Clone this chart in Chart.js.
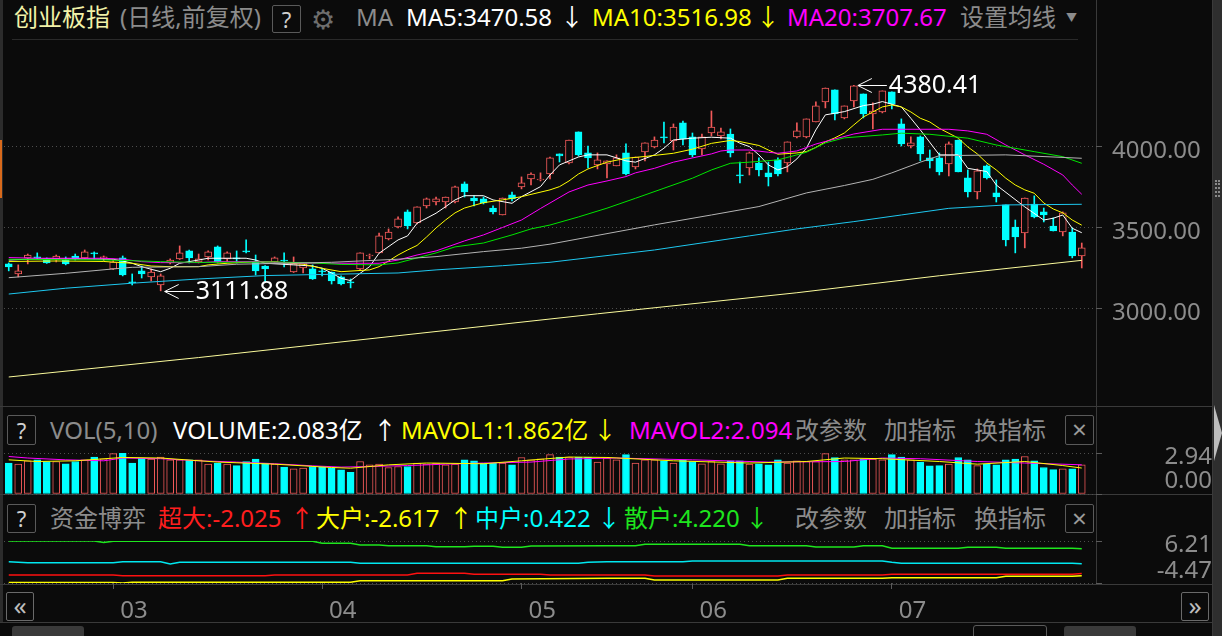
<!DOCTYPE html>
<html>
<head>
<meta charset="utf-8">
<script src="https://cdn.jsdelivr.net/npm/chart.js@4.4.1/dist/chart.umd.min.js"></script>
<style>
html, body { margin: 0; padding: 0; background: #0b0b0b; }
#app { position: relative; width: 1222px; height: 636px; overflow: hidden; background: #0b0b0b;
  font-family: "Noto Sans", "Noto Sans CJK SC", sans-serif; font-size: 24px; color: #8c8c8c; }
.t { position: absolute; white-space: nowrap; line-height: 1; }
.box { position: absolute; border: 1px solid #5a5a5a; border-radius: 2px; box-sizing: border-box;
  text-align: center; color: #d0d0d0; }
.ln { position: absolute; background: #3a3a3a; }
canvas { position: absolute; left: 0; }
</style>
</head>
<body>
<div id="app">
  <div class="ln" style="left:0;top:0;width:3px;height:622px;background:#2c2c2c"></div>
  <div class="ln" style="left:0;top:140px;width:2px;height:58px;background:#d86a1c"></div>

  <!-- price header -->
  <span class="t" style="left:14px;top:5px;color:#f2f2a8">创业板指</span>
  <span class="t" style="left:120px;top:5px">(日线,前复权)</span>
  <div class="box" style="left:272px;top:5px;width:29px;height:28px;font-size:22px;line-height:26px">?</div>
  <span class="t" style="left:311px;top:5px;font-size:27px;color:#6e6e6e">⚙</span>
  <span class="t" style="left:356px;top:5px">MA</span>
  <span class="t" id="ma5Txt" style="left:406px;top:5px;color:#ffffff"></span>
  <span class="t" style="left:560px;top:5px;color:#ffffff">↓</span>
  <span class="t" id="ma10Txt" style="left:592px;top:5px;color:#ffff00"></span>
  <span class="t" style="left:756px;top:5px;color:#ffff00">↓</span>
  <span class="t" id="ma20Txt" style="left:787px;top:5px;color:#ff00ff"></span>
  <span class="t" style="left:960px;top:5px">设置均线</span>
  <span class="t" style="left:1066px;top:12px;font-size:11px">▼</span>
  <div class="ln" style="left:12px;top:39px;width:1066px;height:1px;background:#2a2a2a"></div>

  <!-- frame lines -->
  <div class="ln" style="left:1096px;top:0;width:1px;height:584px"></div>
  <div class="ln" style="left:1212px;top:0;width:1px;height:636px"></div>
  <div class="ln" style="left:0;top:406px;width:1212px;height:1px"></div>
  <div class="ln" style="left:0;top:494px;width:1212px;height:1px"></div>
  <div class="ln" style="left:0;top:584px;width:1212px;height:1px"></div>
  <div class="ln" style="left:0;top:622px;width:1212px;height:1px"></div>

  <!-- volume header -->
  <div class="box" style="left:7px;top:415px;width:29px;height:30px;font-size:22px;line-height:28px">?</div>
  <span class="t" style="left:50px;top:418px">VOL(5,10)</span>
  <span class="t" id="volTxt" style="left:173px;top:418px;color:#ffffff"></span>
  <span class="t" style="left:373px;top:418px;color:#ffffff">↑</span>
  <span class="t" id="mv1Txt" style="left:401px;top:418px;color:#ffff00"></span>
  <span class="t" style="left:593px;top:418px;color:#ffff00">↓</span>
  <span class="t" id="mv2Txt" style="left:629px;top:418px;color:#ff00ff"></span>
  <span class="t" style="left:795px;top:418px">改参数</span>
  <span class="t" style="left:884px;top:418px">加指标</span>
  <span class="t" style="left:974px;top:418px">换指标</span>
  <div class="box" style="left:1065px;top:415px;width:29px;height:30px;font-size:26px;line-height:27px;color:#9a9a9a">×</div>

  <!-- fund header -->
  <div class="box" style="left:7px;top:504px;width:29px;height:29px;font-size:22px;line-height:27px">?</div>
  <span class="t" style="left:50px;top:506px">资金博弈</span>
  <span class="t" id="supTxt" style="left:158px;top:506px;color:#ff1e1e"></span>
  <span class="t" style="left:290px;top:506px;color:#ff1e1e">↑</span>
  <span class="t" id="bigTxt" style="left:316px;top:506px;color:#ffff00"></span>
  <span class="t" style="left:449px;top:506px;color:#ffff00">↑</span>
  <span class="t" id="midTxt" style="left:475px;top:506px;color:#00ffff"></span>
  <span class="t" style="left:597px;top:506px;color:#00ffff">↓</span>
  <span class="t" id="retTxt" style="left:624px;top:506px;color:#1ee61e"></span>
  <span class="t" style="left:745px;top:506px;color:#1ee61e">↓</span>
  <span class="t" style="left:795px;top:506px">改参数</span>
  <span class="t" style="left:884px;top:506px">加指标</span>
  <span class="t" style="left:974px;top:506px">换指标</span>
  <div class="box" style="left:1065px;top:504px;width:29px;height:29px;font-size:26px;line-height:26px;color:#9a9a9a">×</div>

  <!-- scroll buttons and bottom bar -->
  <div class="box" style="left:6px;top:592px;width:28px;height:29px;border-color:#6a6a6a;font-size:26px;line-height:24px;color:#bdbdbd">«</div>
  <div class="box" style="left:1181px;top:592px;width:28px;height:29px;border-color:#6a6a6a;font-size:26px;line-height:24px;color:#bdbdbd">»</div>
  <div style="position:absolute;left:12px;top:626px;width:72px;height:14px;background:#3a3a3a;border-radius:3px"></div>
  <div style="position:absolute;left:973px;top:625px;width:72px;height:14px;border:1px solid #5a5a5a;border-radius:3px"></div>
  <div style="position:absolute;left:1064px;top:626px;width:72px;height:14px;background:#3a3a3a;border-radius:3px"></div>

  <!-- right scrollbar -->
  <div style="position:absolute;left:1213px;top:0;width:9px;height:636px;background:#2e2e2e"></div>
  <div style="position:absolute;left:1215px;top:180px;width:5px;height:17px;border-left:2px dotted #8a8a8a;border-right:2px dotted #8a8a8a;box-sizing:border-box"></div>
  <div style="position:absolute;left:1214px;top:405px;width:0;height:0;border-top:28px solid transparent;border-bottom:28px solid transparent;border-left:8px solid #bdbdbd"></div>

  <canvas id="price" width="1212" height="366" style="top:40px"></canvas>
  <canvas id="vol" width="1212" height="52" style="top:444px"></canvas>
  <canvas id="fund" width="1212" height="92" style="top:530px"></canvas>
</div>

<script>
// trading days per month (categories)
const monthDays = {
  '02': [5, 8, 9, 10, 18, 19, 22, 23, 24, 25, 26],
  '03': [1, 2, 3, 4, 5, 8, 9, 10, 11, 12, 15, 16, 17, 18, 19, 22, 23, 24, 25, 26, 29, 30],
  '04': [1, 2, 6, 7, 8, 9, 12, 13, 14, 15, 16, 19, 20, 21, 22, 23, 26, 27, 28, 29, 30],
  '05': [6, 7, 10, 11, 12, 13, 14, 17, 18, 19, 20, 21, 24, 25, 26, 27, 28, 31],
  '06': [1, 2, 3, 4, 7, 8, 9, 10, 11, 15, 16, 17, 18, 21, 22, 23, 24, 25, 28, 29, 30],
  '07': [1, 2, 5, 6, 7, 8, 9, 12, 13, 14, 15, 16, 19, 20, 21, 22, 23, 26, 27, 28, 29]
};

// daily candles
const open = [3278, 3216, 3315, 3321, 3309, 3309, 3302, 3327, 3315, 3346, 3309, 3247, 3315, 3167, 3235, 3198, 3148, 3284, 3309, 3358,
  3290, 3321, 3383, 3309, 3315, 3358, 3290, 3265, 3290, 3302, 3228, 3253, 3247, 3235, 3228, 3198, 3167, 3247, 3327, 3346,
  3432, 3506, 3599, 3531, 3636, 3660, 3660, 3660, 3772, 3685, 3679, 3623, 3580, 3704, 3753, 3802, 3796, 3833, 3957, 3901,
  4093, 3963, 3889, 3895, 3883, 3963, 3877, 3969, 4000, 4062, 4037, 4148, 4062, 3988, 4086, 4068, 4080, 3827, 3870, 3901,
  3840, 3920, 3901, 4062, 4062, 4154, 4278, 4352, 4179, 4284, 4327, 4204, 4216, 4340, 4142, 4006, 4062, 3932, 3932, 3895,
  4043, 3809, 3722, 3883, 3716, 3642, 3506, 3469, 3648, 3599, 3512, 3475, 3475, 3327];
const close = [3259, 3235, 3333, 3315, 3284, 3327, 3278, 3309, 3352, 3339, 3321, 3290, 3210, 3161, 3216, 3228, 3204, 3302, 3346, 3315,
  3309, 3352, 3290, 3346, 3309, 3352, 3235, 3247, 3315, 3296, 3278, 3284, 3185, 3228, 3173, 3154, 3161, 3346, 3333, 3451,
  3475, 3556, 3512, 3630, 3679, 3679, 3691, 3753, 3722, 3667, 3654, 3599, 3685, 3679, 3778, 3833, 3802, 3932, 3944, 4043,
  3951, 3932, 3920, 3914, 3932, 3833, 3938, 4025, 4043, 4056, 4123, 4049, 3951, 4062, 4123, 4093, 3963, 3821, 3963, 3858,
  3815, 3833, 4031, 4099, 4173, 4253, 4364, 4204, 4253, 4377, 4204, 4222, 4346, 4265, 4019, 4025, 3957, 3914, 3846, 4019,
  3846, 3722, 3852, 3809, 3691, 3426, 3444, 3685, 3568, 3580, 3481, 3593, 3327, 3377];
const high = [3284, 3272, 3339, 3346, 3315, 3333, 3321, 3339, 3364, 3352, 3327, 3302, 3327, 3216, 3265, 3247, 3216, 3309, 3389, 3364,
  3339, 3358, 3389, 3352, 3358, 3426, 3333, 3268, 3321, 3346, 3321, 3284, 3272, 3253, 3228, 3204, 3185, 3346, 3339, 3469,
  3494, 3568, 3611, 3630, 3685, 3691, 3691, 3759, 3784, 3698, 3691, 3636, 3685, 3722, 3815, 3840, 3840, 3938, 3957, 4043,
  4093, 4006, 3963, 3914, 3951, 4019, 3938, 4025, 4062, 4154, 4142, 4160, 4086, 4080, 4222, 4117, 4111, 3907, 3969, 3932,
  3907, 3932, 4031, 4148, 4173, 4278, 4364, 4352, 4253, 4380.41, 4327, 4272, 4346, 4340, 4173, 4062, 4068, 3981, 3963, 4031,
  4043, 3858, 3864, 3889, 3796, 3642, 3549, 3685, 3698, 3623, 3562, 3599, 3500, 3407];
const low = [3235, 3198, 3278, 3309, 3281, 3290, 3272, 3302, 3309, 3309, 3296, 3243, 3204, 3148, 3191, 3173, 3111.88, 3278, 3305, 3284,
  3284, 3302, 3284, 3290, 3284, 3346, 3210, 3167, 3284, 3259, 3225, 3222, 3182, 3204, 3154, 3148, 3130, 3241, 3309, 3346,
  3426, 3500, 3494, 3525, 3623, 3642, 3623, 3654, 3691, 3636, 3648, 3586, 3580, 3667, 3741, 3765, 3790, 3802, 3907, 3895,
  3944, 3870, 3864, 3809, 3883, 3827, 3864, 3914, 3994, 4025, 3981, 4012, 3938, 3951, 4068, 4049, 3938, 3778, 3827, 3821,
  3759, 3821, 3846, 4056, 4056, 4154, 4241, 4167, 4173, 4247, 4179, 4111, 4210, 4235, 4006, 3994, 3914, 3870, 3827, 3821,
  3846, 3691, 3679, 3802, 3660, 3389, 3346, 3377, 3562, 3537, 3481, 3451, 3315, 3253];

// moving averages at the listed candle indices
const ma5At = [0, 2, 4, 8, 11, 12, 13, 14, 15, 16, 17, 18, 20, 21, 25, 26, 27, 30, 32, 33, 34, 35, 36, 37, 38, 39, 41, 42, 43, 45,
  46, 47, 48, 50, 51, 53, 54, 56, 57, 58, 60, 61, 63, 65, 66, 68, 69, 70, 72, 74, 76, 77, 78, 79, 80, 81, 82, 83, 84, 85,
  86, 88, 90, 91, 92, 94, 95, 96, 98, 100, 101, 103, 104, 107, 109, 110, 111, 112, 113];
const ma5 = [3302, 3307, 3309, 3309, 3307, 3296, 3282, 3261, 3245, 3230, 3251, 3282, 3302, 3313, 3313, 3302, 3282, 3272, 3265, 3251,
  3222, 3189, 3175, 3220, 3261, 3344, 3426, 3451, 3529, 3591, 3631, 3673, 3699, 3699, 3673, 3652, 3693, 3755, 3827, 3889,
  3938, 3951, 3951, 3914, 3906, 3951, 3992, 4043, 4054, 4060, 4054, 4023, 4002, 3951, 3889, 3858, 3878, 3926, 3992, 4105,
  4198, 4218, 4255, 4264, 4280, 4247, 4177, 4105, 3951, 3951, 3868, 3848, 3765, 3630, 3549, 3560, 3580, 3498, 3470.58];
const ma10At = [0, 5, 10, 13, 15, 17, 20, 21, 23, 26, 28, 31, 33, 35, 38, 39, 40, 41, 42, 43, 44, 45, 46, 47, 48, 50, 52, 54, 55, 57,
  58, 59, 60, 61, 63, 65, 67, 70, 72, 74, 76, 77, 79, 80, 81, 83, 84, 85, 86, 87, 88, 89, 90, 91, 92, 93, 94, 95, 96, 97,
  98, 100, 101, 102, 103, 104, 105, 106, 107, 108, 109, 110, 111, 112, 113];
const ma10 = [3293, 3296, 3293, 3282, 3265, 3261, 3261, 3272, 3282, 3292, 3290, 3276, 3251, 3230, 3241, 3261, 3296, 3333, 3364, 3392,
  3444, 3500, 3549, 3593, 3623, 3656, 3673, 3693, 3707, 3735, 3755, 3790, 3833, 3864, 3906, 3930, 3941, 3961, 3986, 4022,
  4040, 4033, 4009, 3981, 3955, 3963, 3971, 3997, 4031, 4056, 4086, 4136, 4185, 4216, 4247, 4259, 4247, 4216, 4177, 4154,
  4115, 4054, 4000, 3957, 3901, 3858, 3807, 3765, 3735, 3714, 3654, 3617, 3593, 3549, 3516.98];
const ma20At = [0, 3, 10, 12, 14, 16, 20, 22, 26, 29, 32, 39, 41, 43, 45, 48, 50, 52, 54, 56, 57, 59, 61, 63, 65, 66, 68, 70, 72, 74,
  75, 76, 78, 80, 81, 83, 85, 87, 89, 92, 99, 101, 103, 105, 107, 109, 111, 112, 113];
const ma20 = [3317, 3313, 3313, 3307, 3292, 3286, 3286, 3292, 3292, 3286, 3282, 3282, 3302, 3333, 3358, 3420, 3457, 3503, 3549, 3620,
  3654, 3722, 3765, 3790, 3817, 3840, 3868, 3906, 3932, 3957, 3975, 3981, 3981, 3967, 3961, 3975, 4018, 4049, 4080, 4109,
  4109, 4099, 4078, 4012, 3951, 3893, 3827, 3765, 3707.67];
const ma30At = [0, 10, 13, 16, 20, 28, 32, 35, 39, 41, 43, 45, 47, 50, 53, 55, 57, 60, 63, 66, 69, 72, 74, 76, 78, 81, 83, 84, 86, 88,
  92, 94, 97, 101, 104, 108, 111, 113];
const ma30 = [3307, 3302, 3298, 3292, 3287, 3290, 3284, 3275, 3272, 3284, 3315, 3346, 3383, 3407, 3457, 3494, 3518, 3568, 3622, 3683,
  3745, 3807, 3858, 3899, 3906, 3920, 3951, 3967, 4025, 4056, 4074, 4085, 4078, 4054, 4012, 3971, 3940, 3899];
const ma60At = [0, 6, 11, 13, 20, 24, 34, 41, 45, 50, 54, 57, 68, 74, 79, 84, 88, 91, 93, 96, 98, 105, 113];
const ma60 = [3193, 3220, 3247, 3257, 3261, 3276, 3288, 3307, 3323, 3354, 3375, 3400, 3519, 3580, 3632, 3716, 3762, 3800, 3840, 3906,
  3946, 3951, 3930];
const ma120At = [0, 6, 13, 20, 27, 34, 41, 45, 52, 57, 68, 78, 83, 89, 94, 99, 105, 113];
const ma120 = [3092, 3128, 3159, 3185, 3206, 3214, 3222, 3241, 3267, 3288, 3364, 3451, 3494, 3539, 3580, 3621, 3642, 3646];
const ma250At = [0, 20, 41, 62, 83, 98, 113];
const ma250 = [2580, 2700, 2835, 2970, 3100, 3205, 3300];
const priceTicks = [3000, 3500, 4000];

// volume, 亿
const volume = [2.22, 2.14, 2.38, 2.45, 2.33, 2.33, 2.17, 2.33, 2.45, 2.65, 2.53, 2.89, 2.94, 2.22, 2.58, 2.51, 2.65, 2.45, 2.45, 2.45,
  2.45, 2.14, 2.22, 2.14, 2.04, 2.33, 2.51, 2.22, 2.14, 1.93, 1.80, 1.85, 1.97, 1.93, 1.85, 1.73, 1.56, 2.33, 2.09, 2.14,
  1.90, 1.97, 1.97, 2.22, 2.14, 2.22, 2.09, 2.14, 2.45, 2.38, 2.22, 2.22, 2.22, 2.09, 2.62, 2.45, 2.53, 2.82, 2.65, 2.65,
  2.65, 2.65, 2.29, 2.58, 2.45, 2.82, 2.22, 2.45, 2.45, 2.38, 2.22, 2.45, 2.33, 2.17, 2.33, 2.17, 2.38, 2.38, 2.14, 2.17,
  2.09, 2.45, 2.22, 2.38, 2.33, 2.33, 2.89, 2.62, 2.45, 2.45, 2.51, 2.51, 2.45, 2.82, 2.65, 2.45, 2.29, 2.02, 2.04, 2.14,
  2.62, 2.45, 2.04, 2.14, 2.09, 2.45, 2.51, 2.69, 2.38, 1.90, 1.75, 1.80, 1.80, 2.083];
const mavol1At = [0, 3, 7, 12, 16, 22, 28, 34, 36, 40, 44, 50, 54, 59, 63, 70, 78, 84, 88, 92, 98, 102, 107, 111, 113];
const mavol1 = [2.45, 2.33, 2.38, 2.62, 2.58, 2.29, 2.14, 1.90, 1.85, 2.09, 2.22, 2.17, 2.38, 2.65, 2.62, 2.38, 2.22, 2.33, 2.58, 2.53,
  2.33, 2.14, 2.33, 2.04, 1.862];
const mavol2At = [0, 2, 6, 10, 12, 16, 20, 24, 28, 32, 35, 38, 42, 46, 50, 55, 59, 64, 72, 80, 88, 92, 96, 102, 107, 113];
const mavol2 = [2.69, 2.58, 2.45, 2.38, 2.58, 2.53, 2.38, 2.29, 2.17, 2.02, 1.93, 1.97, 2.04, 2.14, 2.22, 2.29, 2.51, 2.58, 2.45, 2.29,
  2.33, 2.58, 2.53, 2.33, 2.22, 2.094];
const volTicks = [2.94, 0];

// 资金博弈
const superAt = [0, 11, 12, 27, 28, 42, 43, 48, 49, 56, 57, 67, 68, 81, 82, 92, 93, 112, 113];
const superBig = [-2.44, -2.44, -2.6, -2.6, -2.44, -2.44, -2.0, -2.0, -2.26, -2.26, -2.44, -2.44, -2.69, -2.69, -2.44, -2.44, -2.26, -2.26, -2.025];
const bigAt = [0, 11, 12, 13, 36, 37, 52, 53, 63, 67, 68, 81, 82, 92, 93, 104, 105, 112, 113];
const big = [-4.35, -4.35, -4.47, -4.25, -4.25, -3.89, -3.89, -3.45, -3.28, -3.28, -3.71, -3.71, -3.28, -3.28, -3.12, -3.12, -2.77, -2.77, -2.617];
const midAt = [0, 2, 11, 12, 16, 17, 18, 36, 37, 60, 61, 63, 71, 72, 92, 93, 94, 112, 113];
const mid = [0.95, 0.69, 0.69, 0.95, 0.95, 0.36, 0.79, 0.79, 0.54, 0.54, 0.79, 0.95, 0.95, 1.12, 1.12, 0.79, 0.54, 0.54, 0.422];
const retailAt = [0, 9, 10, 11, 32, 33, 36, 37, 39, 40, 44, 45, 48, 49, 51, 52, 54, 55, 63, 66, 67, 77, 78, 84, 85, 89, 90, 92, 93,
  100, 101, 104, 105, 112, 113];
const retail = [6.21, 6.21, 5.85, 6.15, 6.15, 5.62, 5.62, 5.19, 5.19, 5.02, 5.02, 4.76, 4.76, 4.85, 4.85, 4.6, 4.6, 4.94, 5.02, 5.02,
  5.37, 5.37, 5.02, 5.02, 4.7, 4.7, 5.02, 5.02, 4.35, 4.35, 4.6, 4.6, 4.35, 4.35, 4.22];
const fundTicks = [6.21, -4.47];

// ---------------------------------------------------------------
const FONT = '"Noto Sans", "Noto Sans CJK SC", sans-serif';
const RED = '#f25a5a', CYAN = '#00ffff', BG = '#0b0b0b';
Chart.defaults.font.family = FONT;
Chart.defaults.font.size = 24;
Chart.defaults.color = '#8c8c8c';
Chart.defaults.animation = false;
Chart.defaults.events = [];
Chart.defaults.plugins.legend.display = false;
Chart.defaults.plugins.tooltip.enabled = false;

const dates = [];
Object.keys(monthDays).forEach(m => monthDays[m].forEach(d => dates.push(m + '-' + String(d).padStart(2, '0'))));
const xLabels = dates.concat(['']); // one empty slot before the right axis
const n = xLabels.length;
const monthTick = dates.map((d, i) => (i > 0 && d.slice(0, 2) !== dates[i - 1].slice(0, 2)) ? d.slice(0, 2) : '');
const up = open.map((o, i) => close[i] >= o);

const last = a => a[a.length - 1];
document.getElementById('ma5Txt').textContent = 'MA5:' + last(ma5).toFixed(2);
document.getElementById('ma10Txt').textContent = 'MA10:' + last(ma10).toFixed(2);
document.getElementById('ma20Txt').textContent = 'MA20:' + last(ma20).toFixed(2);
document.getElementById('volTxt').textContent = 'VOLUME:' + last(volume).toFixed(3) + '亿';
document.getElementById('mv1Txt').textContent = 'MAVOL1:' + last(mavol1).toFixed(3) + '亿';
document.getElementById('mv2Txt').textContent = 'MAVOL2:' + last(mavol2).toFixed(3);
document.getElementById('supTxt').textContent = '超大:' + last(superBig).toFixed(3);
document.getElementById('bigTxt').textContent = '大户:' + last(big).toFixed(3);
document.getElementById('midTxt').textContent = '中户:' + last(mid).toFixed(3);
document.getElementById('retTxt').textContent = '散户:' + last(retail).toFixed(3);

function spread(at, vals) {
  const a = new Array(n).fill(null);
  at.forEach((k, j) => { a[k] = vals[j]; });
  return a;
}
function lineDs(at, vals, color, width) {
  return { type: 'line', data: spread(at, vals), borderColor: color, borderWidth: width || 1,
    pointRadius: 0, spanGaps: true, tension: 0, order: 0 };
}
function textWidth(s) {
  const c = document.createElement('canvas').getContext('2d');
  c.font = '24px ' + FONT;
  return c.measureText(s).width;
}
// keep the plot area exactly where the panel is: no extra room for edge labels
function noPad(s) { s.paddingTop = 0; s.paddingBottom = 0; s.paddingLeft = 0; s.paddingRight = 0; }
const hiddenX = { type: 'category', display: false, offset: true, grid: { display: false } };
const AXIS_W = 116;

// axis that only draws the dotted grid line and the short tick marks
function gridAxis(min, max, vals) {
  return { position: 'right', weight: 0, min, max,
    afterBuildTicks: s => { s.ticks = vals.map(v => ({ value: v })); },
    afterFit: s => { s.width = 0; noPad(s); },
    ticks: { display: false },
    grid: { color: '#4d4d4d', tickColor: '#5a5a5a', tickLength: 6 },
    border: { display: false, dash: [1, 3] } };
}
// axis that only draws the value labels, placed inside the panel like the original
function labelAxis(vals, plotH, topGap, botGap) {
  const hi = vals[0], lo = vals[vals.length - 1];
  const per = (hi - lo) / (plotH - topGap - botGap);
  const widest = Math.max(...vals.map(v => textWidth(v.toFixed(2))));
  return { position: 'right', weight: 1, min: lo - botGap * per, max: hi + topGap * per,
    afterBuildTicks: s => { s.ticks = vals.map(v => ({ value: v })); },
    afterFit: s => { s.width = AXIS_W; noPad(s); },
    ticks: { autoSkip: false, crossAlign: 'far', padding: 104 - widest, callback: v => v.toFixed(2) },
    grid: { display: false, drawTicks: false },
    border: { display: false } };
}

const extremaPlugin = {
  id: 'extrema',
  afterDatasetsDraw(chart) {
    const { ctx, scales: { x, y } } = chart;
    const hi = Math.max(...high), lo = Math.min(...low);
    [[high.indexOf(hi), hi], [low.indexOf(lo), lo]].forEach(([i, v]) => {
      const px = x.getPixelForValue(i) + 4;
      const py = Math.round(y.getPixelForValue(v)) + 0.5;
      ctx.save();
      ctx.strokeStyle = '#ffffff';
      ctx.lineWidth = 1;
      ctx.beginPath();
      ctx.moveTo(px, py); ctx.lineTo(px + 29, py);
      ctx.moveTo(px + 14, py - 7); ctx.lineTo(px, py); ctx.lineTo(px + 14, py + 7);
      ctx.stroke();
      ctx.fillStyle = '#ffffff';
      ctx.font = '25px ' + FONT;
      ctx.textBaseline = 'middle';
      ctx.fillText(v.toFixed(2), px + 31, py);
      ctx.restore();
    });
  }
};

// price panel
new Chart(document.getElementById('price'), {
  type: 'bar',
  data: {
    labels: xLabels,
    datasets: [
      { data: low.map((l, i) => [l, high[i]]), backgroundColor: up.map(u => u ? RED : CYAN),
        borderWidth: 0, barThickness: 1, grouped: false, order: 2 },
      { data: open.map((o, i) => [o, close[i]]), backgroundColor: up.map(u => u ? BG : CYAN),
        borderColor: up.map(u => u ? RED : CYAN), borderWidth: 1, borderSkipped: false,
        barThickness: 7, minBarLength: 1, grouped: false, order: 1 },
      lineDs(ma250At, ma250, '#fbfb9c'),
      lineDs(ma120At, ma120, '#1ec8f0'),
      lineDs(ma60At, ma60, '#b4b4b4'),
      lineDs(ma30At, ma30, '#00e600'),
      lineDs(ma20At, ma20, '#ff00ff'),
      lineDs(ma10At, ma10, '#ffff00'),
      lineDs(ma5At, ma5, '#ffffff')
    ]
  },
  options: {
    responsive: false,
    layout: { padding: { left: 4 } },
    scales: {
      x: hiddenX,
      y: { position: 'right', min: 2401, max: 4660,
        afterBuildTicks: s => { s.ticks = priceTicks.map(v => ({ value: v })); },
        afterFit: s => { s.width = AXIS_W; noPad(s); },
        ticks: { autoSkip: false, padding: 10, labelOffset: 4, callback: v => v.toFixed(2) },
        grid: { color: '#4d4d4d', tickColor: '#5a5a5a', tickLength: 6 },
        border: { display: false, dash: [1, 3] } }
    }
  },
  plugins: [extremaPlugin]
});

// volume panel
new Chart(document.getElementById('vol'), {
  type: 'bar',
  data: {
    labels: xLabels,
    datasets: [
      { data: volume, backgroundColor: up.map(u => u ? BG : CYAN), borderColor: up.map(u => u ? RED : CYAN),
        borderWidth: 1, borderSkipped: false, barThickness: 7, order: 1, yAxisID: 'y' },
      Object.assign(lineDs(mavol1At, mavol1, '#ffff00'), { yAxisID: 'y' }),
      Object.assign(lineDs(mavol2At, mavol2, '#ff00ff'), { yAxisID: 'y' })
    ]
  },
  options: {
    responsive: false,
    layout: { padding: { left: 4, top: 9, bottom: 2 } },
    scales: { x: hiddenX, y: gridAxis(0, 2.94, volTicks), yLab: labelAxis(volTicks, 41, 4, 13) }
  }
});

// fund panel with the month axis
new Chart(document.getElementById('fund'), {
  type: 'line',
  data: {
    labels: xLabels,
    datasets: [
      Object.assign(lineDs(retailAt, retail, '#1ee61e', 1.5), { yAxisID: 'y' }),
      Object.assign(lineDs(midAt, mid, '#00e8f0', 1.5), { yAxisID: 'y' }),
      Object.assign(lineDs(superAt, superBig, '#ff1010', 1.5), { yAxisID: 'y' }),
      Object.assign(lineDs(bigAt, big, '#ffff00', 1.5), { yAxisID: 'y' })
    ]
  },
  options: {
    responsive: false,
    layout: { padding: { left: 4, top: 11 } },
    scales: {
      x: { type: 'category', offset: true,
        afterFit: s => { s.height = 39; noPad(s); },
        ticks: { autoSkip: false, maxRotation: 0, minRotation: 0, align: 'start', labelOffset: 7, padding: 8,
          callback: (v, i) => monthTick[i] || '' },
        grid: { offset: false, drawOnChartArea: false, tickLength: 6, color: 'rgba(0,0,0,0)',
          tickColor: c => monthTick[c.index] ? '#5a5a5a' : 'rgba(0,0,0,0)' },
        border: { display: false } },
      y: gridAxis(-4.47, 6.21, fundTicks),
      yLab: labelAxis(fundTicks, 42, 4, 12)
    }
  }
});
</script>
</body>
</html>
